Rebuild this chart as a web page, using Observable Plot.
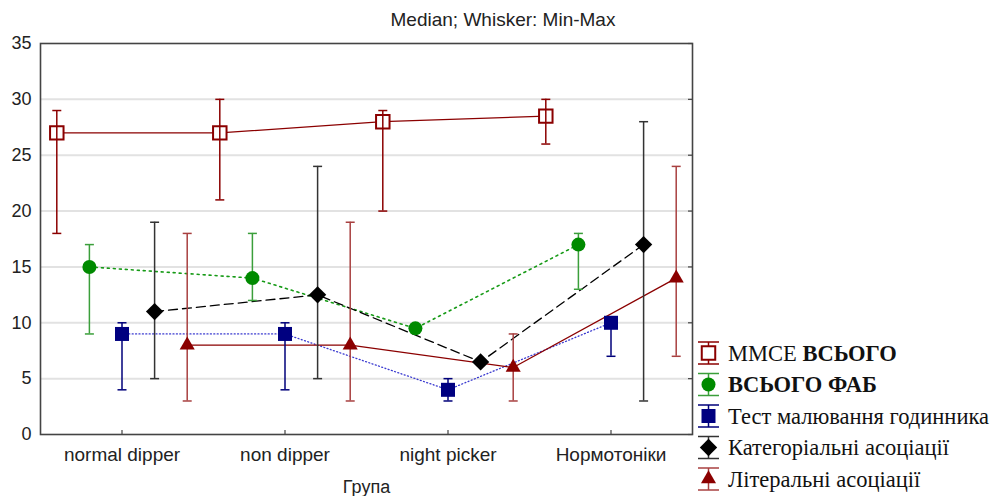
<!DOCTYPE html>
<html><head><meta charset="utf-8">
<script src="https://cdn.jsdelivr.net/npm/d3@7"></script>
<script src="https://cdn.jsdelivr.net/npm/@observablehq/plot@0.6"></script>
<style>
html,body{margin:0;padding:0;background:#fff;}
#wrap{position:relative;width:995px;height:496px;}
#overlay{position:absolute;left:0;top:0;pointer-events:none;}
</style></head><body><div id="wrap"></div>
<script>
// ---- data ----
const categories = ["normal dipper", "non dipper", "night picker", "Нормотоніки"];
const seriesNames = ["ММСЕ ВСЬОГО", "ВСЬОГО ФАБ", "Тест малювання годинника", "Категоріальні асоціації", "Літеральні асоціації"];
const mmseMedian = [27, 27, 28, 28.5], mmseMin = [18, 21, 20, 26], mmseMax = [29, 30, 29, 30];
const fabMedian = [15, 14, 9.5, 17], fabMin = [9, 12, 9.5, 13], fabMax = [17, 18, 9.5, 18];
const clockMedian = [9, 9, 4, 10], clockMin = [4, 4, 3, 7], clockMax = [10, 10, 5, 10];
const catMedian = [11, 12.5, 6.5, 17], catMin = [5, 5, 6.5, 3], catMax = [19, 24, 6.5, 28];
const litMedian = [8, 8, 6, 14], litMin = [3, 3, 3, 7], litMax = [18, 19, 9, 24];
const yTicks = [0, 5, 10, 15, 20, 25, 30, 35];
const gridTicks = [5, 10, 15, 20, 25, 30];
const title = "Median; Whisker: Min-Max";
const xLabel = "Група";

// ---- styles ----
const styles = [
  {color: "#8b0000", whisker: "#8b0000", line: "#8b0000", dash: null, lw: 1.2, symbol: "square", d3sym: d3.symbolSquare, fill: "white", r: 7.6, sw: 2},
  {color: "#008a00", whisker: "#3b9f3b", line: "#169a16", dash: "2,4", lw: 1.6, symbol: "circle", d3sym: d3.symbolCircle, fill: "#008a00", r: 7, sw: 0},
  {color: "#000080", whisker: "#00007a", line: "#3a3ad0", dash: "1,2.4", lw: 1.3, symbol: "square", d3sym: d3.symbolSquare, fill: "#000080", r: 7.9, sw: 0},
  {color: "#000000", whisker: "#333333", line: "#000000", dash: "9,5", lw: 1.3, symbol: "diamond2", d3sym: d3.symbolDiamond2, fill: "#000000", r: 7.8, sw: 0},
  {color: "#8b0000", whisker: "#a84040", line: "#8b0000", dash: null, lw: 1.3, symbol: "triangle", d3sym: d3.symbolTriangle, fill: "#8b0000", r: 5.6, sw: 0}
];

const medians = [mmseMedian, fabMedian, clockMedian, catMedian, litMedian];
const mins = [mmseMin, fabMin, clockMin, catMin, litMin];
const maxs = [mmseMax, fabMax, clockMax, catMax, litMax];

const rows = [];
seriesNames.forEach((name, si) => categories.forEach((c, i) => {
  rows.push({series: name, si, i, x: i + (si - 2) * 0.2, med: medians[si][i], min: mins[si][i], max: maxs[si][i]});
}));

// custom symbols (pixel-based)
const hCap = {draw(ctx, size) { const r = Math.sqrt(size / Math.PI); ctx.moveTo(-r, 0); ctx.lineTo(r, 0); }};
const vTickUp = {draw(ctx, size) { const r = Math.sqrt(size / Math.PI); ctx.moveTo(0, 0); ctx.lineTo(0, -r); }};
const hTickLeft = {draw(ctx, size) { const r = Math.sqrt(size / Math.PI); ctx.moveTo(0, 0); ctx.lineTo(-r, 0); }};

function whiskerMarks(si) {
  const st = styles[si];
  const d = rows.filter(r => r.si === si);
  return [
    Plot.ruleX(d, {x: "x", y1: "min", y2: "max", stroke: st.whisker, strokeWidth: 1.5}),
    Plot.dot(d, {x: "x", y: "min", symbol: hCap, r: 4.5, stroke: st.whisker, strokeWidth: 1.5, fill: "none"}),
    Plot.dot(d, {x: "x", y: "max", symbol: hCap, r: 4.5, stroke: st.whisker, strokeWidth: 1.5, fill: "none"})
  ];
}

const marks = [
  Plot.gridY(gridTicks, {stroke: "#e2e2e2", strokeOpacity: 1, strokeWidth: 2}),
  Plot.axisY(yTicks, {tickSize: 0, tickPadding: 9, fontSize: 18, fill: "#222"}),
  Plot.axisX([0, 1, 2, 3], {tickSize: 0, tickPadding: 13, fontSize: 19, fill: "#222", tickFormat: i => categories[i], label: null}),
  Plot.text([xLabel], {frameAnchor: "bottom", dy: 58, fontSize: 18, fill: "#222"})
];
styles.forEach((st, si) => {
  marks.push(Plot.line(rows.filter(r => r.si === si), {x: "x", y: "med", stroke: st.line, strokeWidth: st.lw, strokeDasharray: st.dash}));
});
for (let si = 1; si < 5; si++) marks.push(...whiskerMarks(si));
styles.forEach((st, si) => {
  marks.push(Plot.dot(rows.filter(r => r.si === si), {x: "x", y: "med", symbol: st.symbol, r: st.r,
    fill: st.fill, stroke: st.sw ? st.color : "none", strokeWidth: st.sw}));
});
marks.push(...whiskerMarks(0));
marks.push(
  Plot.frame({stroke: "#444", strokeWidth: 1.6}),
  Plot.dot([0, 1, 2, 3], {x: d => d, frameAnchor: "bottom", symbol: vTickUp, r: 4.5, stroke: "#444", strokeWidth: 1.2}),
  Plot.dot(yTicks, {y: d => d, frameAnchor: "right", symbol: hTickLeft, r: 4.5, stroke: "#444", strokeWidth: 1.2})
);

const chart = Plot.plot({
  width: 995, height: 496,
  marginLeft: 40, marginRight: 303, marginTop: 43, marginBottom: 62,
  x: {domain: [-0.5, 3.5], axis: null},
  y: {domain: [0, 35], axis: null},
  style: {fontFamily: "'Liberation Sans', Arial, sans-serif", background: "white", color: "#222"},
  marks
});
const wrap = document.getElementById("wrap");
wrap.appendChild(chart);

// ---- overlay: title + legend ----
const ov = d3.select(wrap).append("svg").attr("id", "overlay").attr("width", 995).attr("height", 496);
ov.append("text").attr("x", 503).attr("y", 26).attr("text-anchor", "middle")
  .attr("font-family", "'Liberation Sans', Arial, sans-serif").attr("font-size", 19).attr("fill", "#222").text(title);

const legendParts = [
  [["ММСЕ ", "normal"], ["ВСЬОГО", "bold"]],
  [["ВСЬОГО ФАБ", "bold"]],
  [["Тест малювання годинника", "normal"]],
  [["Категоріальні асоціації", "normal"]],
  [["Літеральні асоціації", "normal"]]
];
styles.forEach((st, k) => {
  const cy = 353 + k * 31.5, cx = 708.5;
  const g = ov.append("g");
  g.append("line").attr("x1", 698).attr("x2", 719).attr("y1", cy - 11).attr("y2", cy - 11).attr("stroke", st.whisker).attr("stroke-width", 1.5);
  g.append("line").attr("x1", 698).attr("x2", 719).attr("y1", cy + 11).attr("y2", cy + 11).attr("stroke", st.whisker).attr("stroke-width", 1.5);
  g.append("line").attr("x1", cx).attr("x2", cx).attr("y1", cy - 11).attr("y2", cy + 11).attr("stroke", st.whisker).attr("stroke-width", 1.5);
  g.append("path").attr("transform", `translate(${cx},${cy})`)
    .attr("d", d3.symbol().type(st.d3sym).size(Math.PI * st.r * st.r)())
    .attr("fill", st.fill).attr("stroke", st.sw ? st.color : "none").attr("stroke-width", st.sw);
  const t = g.append("text").attr("x", 728).attr("y", cy + 7.5)
    .attr("font-family", "'Liberation Serif', 'Times New Roman', serif").attr("font-size", 22.5).attr("fill", "#111");
  legendParts[k].forEach(([s, w]) => t.append("tspan").attr("font-weight", w).text(s));
});
</script></body></html>
